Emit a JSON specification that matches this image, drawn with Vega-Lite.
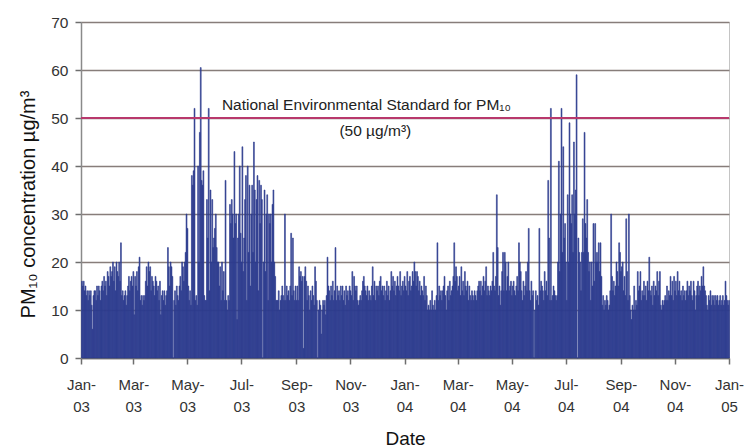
{
"$schema":"https://vega.github.io/schema/vega-lite/v6.json",
"width":648,"height":336,"autosize":"none",
"padding":{"left":81,"top":22,"right":16,"bottom":90},
"background":"white",
"config":{"view":{"stroke":"#c4c4c4","strokeWidth":1},"font":"Liberation Sans"},
"datasets":{"pm":[
{"date":"2003-01-01","pm10":16},{"date":"2003-01-02","pm10":15},{"date":"2003-01-03","pm10":16},{"date":"2003-01-04","pm10":14},{"date":"2003-01-05","pm10":15},{"date":"2003-01-06","pm10":13},{"date":"2003-01-07","pm10":14},{"date":"2003-01-08","pm10":12},{"date":"2003-01-09","pm10":14},{"date":"2003-01-10","pm10":13},{"date":"2003-01-11","pm10":14},{"date":"2003-01-12","pm10":11},{"date":"2003-01-13","pm10":6},{"date":"2003-01-14","pm10":13},{"date":"2003-01-15","pm10":14},{"date":"2003-01-16","pm10":14},{"date":"2003-01-17","pm10":12},{"date":"2003-01-18","pm10":15},{"date":"2003-01-19","pm10":13},{"date":"2003-01-20","pm10":15},{"date":"2003-01-21","pm10":14},{"date":"2003-01-22","pm10":12},{"date":"2003-01-23","pm10":15},{"date":"2003-01-24","pm10":16},{"date":"2003-01-25","pm10":14},{"date":"2003-01-26","pm10":17},{"date":"2003-01-27","pm10":15},{"date":"2003-01-28","pm10":16},{"date":"2003-01-29","pm10":13},{"date":"2003-01-30","pm10":18},{"date":"2003-01-31","pm10":17},
{"date":"2003-02-01","pm10":15},{"date":"2003-02-02","pm10":19},{"date":"2003-02-03","pm10":17},{"date":"2003-02-04","pm10":18},{"date":"2003-02-05","pm10":20},{"date":"2003-02-06","pm10":16},{"date":"2003-02-07","pm10":19},{"date":"2003-02-08","pm10":14},{"date":"2003-02-09","pm10":20},{"date":"2003-02-10","pm10":18},{"date":"2003-02-11","pm10":17},{"date":"2003-02-12","pm10":20},{"date":"2003-02-13","pm10":16},{"date":"2003-02-14","pm10":24},{"date":"2003-02-15","pm10":13},{"date":"2003-02-16","pm10":14},{"date":"2003-02-17","pm10":12},{"date":"2003-02-18","pm10":13},{"date":"2003-02-19","pm10":14},{"date":"2003-02-20","pm10":11},{"date":"2003-02-21","pm10":13},{"date":"2003-02-22","pm10":15},{"date":"2003-02-23","pm10":17},{"date":"2003-02-24","pm10":14},{"date":"2003-02-25","pm10":16},{"date":"2003-02-26","pm10":17},{"date":"2003-02-27","pm10":15},{"date":"2003-02-28","pm10":18},
{"date":"2003-03-01","pm10":9},{"date":"2003-03-02","pm10":17},{"date":"2003-03-03","pm10":15},{"date":"2003-03-04","pm10":18},{"date":"2003-03-05","pm10":14},{"date":"2003-03-06","pm10":19},{"date":"2003-03-07","pm10":21},{"date":"2003-03-08","pm10":12},{"date":"2003-03-09","pm10":13},{"date":"2003-03-10","pm10":11},{"date":"2003-03-11","pm10":13},{"date":"2003-03-12","pm10":12},{"date":"2003-03-13","pm10":13},{"date":"2003-03-14","pm10":16},{"date":"2003-03-15","pm10":19},{"date":"2003-03-16","pm10":15},{"date":"2003-03-17","pm10":20},{"date":"2003-03-18","pm10":18},{"date":"2003-03-19","pm10":19},{"date":"2003-03-20","pm10":14},{"date":"2003-03-21","pm10":17},{"date":"2003-03-22","pm10":16},{"date":"2003-03-23","pm10":15},{"date":"2003-03-24","pm10":13},{"date":"2003-03-25","pm10":17},{"date":"2003-03-26","pm10":16},{"date":"2003-03-27","pm10":14},{"date":"2003-03-28","pm10":15},{"date":"2003-03-29","pm10":12},{"date":"2003-03-30","pm10":16},{"date":"2003-03-31","pm10":9},
{"date":"2003-04-01","pm10":13},{"date":"2003-04-02","pm10":14},{"date":"2003-04-03","pm10":12},{"date":"2003-04-04","pm10":14},{"date":"2003-04-05","pm10":11},{"date":"2003-04-06","pm10":13},{"date":"2003-04-07","pm10":14},{"date":"2003-04-08","pm10":23},{"date":"2003-04-09","pm10":19},{"date":"2003-04-10","pm10":15},{"date":"2003-04-11","pm10":20},{"date":"2003-04-12","pm10":19},{"date":"2003-04-13","pm10":17},{"date":"2003-04-14","pm10":0},{"date":"2003-04-15","pm10":12},{"date":"2003-04-16","pm10":14},{"date":"2003-04-17","pm10":11},{"date":"2003-04-18","pm10":15},{"date":"2003-04-19","pm10":13},{"date":"2003-04-20","pm10":12},{"date":"2003-04-21","pm10":15},{"date":"2003-04-22","pm10":17},{"date":"2003-04-23","pm10":14},{"date":"2003-04-24","pm10":20},{"date":"2003-04-25","pm10":19},{"date":"2003-04-26","pm10":16},{"date":"2003-04-27","pm10":20},{"date":"2003-04-28","pm10":22},{"date":"2003-04-29","pm10":30},{"date":"2003-04-30","pm10":27},
{"date":"2003-05-01","pm10":15},{"date":"2003-05-02","pm10":12},{"date":"2003-05-03","pm10":14},{"date":"2003-05-04","pm10":11},{"date":"2003-05-05","pm10":38},{"date":"2003-05-06","pm10":36},{"date":"2003-05-07","pm10":39},{"date":"2003-05-08","pm10":52},{"date":"2003-05-09","pm10":12},{"date":"2003-05-10","pm10":13},{"date":"2003-05-11","pm10":11},{"date":"2003-05-12","pm10":40},{"date":"2003-05-13","pm10":20},{"date":"2003-05-14","pm10":47},{"date":"2003-05-15","pm10":60.5},{"date":"2003-05-16","pm10":37},{"date":"2003-05-17","pm10":36},{"date":"2003-05-18","pm10":39},{"date":"2003-05-19","pm10":13},{"date":"2003-05-20","pm10":12},{"date":"2003-05-21","pm10":12},{"date":"2003-05-22","pm10":33},{"date":"2003-05-23","pm10":25},{"date":"2003-05-24","pm10":52},{"date":"2003-05-25","pm10":14},{"date":"2003-05-26","pm10":35},{"date":"2003-05-27","pm10":20},{"date":"2003-05-28","pm10":33},{"date":"2003-05-29","pm10":23},{"date":"2003-05-30","pm10":25},{"date":"2003-05-31","pm10":27},
{"date":"2003-06-01","pm10":30},{"date":"2003-06-02","pm10":23},{"date":"2003-06-03","pm10":20},{"date":"2003-06-04","pm10":20},{"date":"2003-06-05","pm10":15},{"date":"2003-06-06","pm10":19},{"date":"2003-06-07","pm10":12},{"date":"2003-06-08","pm10":20},{"date":"2003-06-09","pm10":14},{"date":"2003-06-10","pm10":18},{"date":"2003-06-11","pm10":12},{"date":"2003-06-12","pm10":37},{"date":"2003-06-13","pm10":12},{"date":"2003-06-14","pm10":10},{"date":"2003-06-15","pm10":13},{"date":"2003-06-16","pm10":12},{"date":"2003-06-17","pm10":32},{"date":"2003-06-18","pm10":28},{"date":"2003-06-19","pm10":33},{"date":"2003-06-20","pm10":30},{"date":"2003-06-21","pm10":25},{"date":"2003-06-22","pm10":43},{"date":"2003-06-23","pm10":28},{"date":"2003-06-24","pm10":30},{"date":"2003-06-25","pm10":8},{"date":"2003-06-26","pm10":25},{"date":"2003-06-27","pm10":30},{"date":"2003-06-28","pm10":40},{"date":"2003-06-29","pm10":26},{"date":"2003-06-30","pm10":20},
{"date":"2003-07-01","pm10":44},{"date":"2003-07-02","pm10":18},{"date":"2003-07-03","pm10":25},{"date":"2003-07-04","pm10":33},{"date":"2003-07-05","pm10":38},{"date":"2003-07-06","pm10":12},{"date":"2003-07-07","pm10":40},{"date":"2003-07-08","pm10":22},{"date":"2003-07-09","pm10":36},{"date":"2003-07-10","pm10":15},{"date":"2003-07-11","pm10":30},{"date":"2003-07-12","pm10":36},{"date":"2003-07-13","pm10":22},{"date":"2003-07-14","pm10":45},{"date":"2003-07-15","pm10":35},{"date":"2003-07-16","pm10":20},{"date":"2003-07-17","pm10":33},{"date":"2003-07-18","pm10":38},{"date":"2003-07-19","pm10":14},{"date":"2003-07-20","pm10":37},{"date":"2003-07-21","pm10":28},{"date":"2003-07-22","pm10":36},{"date":"2003-07-23","pm10":33},{"date":"2003-07-24","pm10":0},{"date":"2003-07-25","pm10":20},{"date":"2003-07-26","pm10":35},{"date":"2003-07-27","pm10":18},{"date":"2003-07-28","pm10":30},{"date":"2003-07-29","pm10":34},{"date":"2003-07-30","pm10":12},{"date":"2003-07-31","pm10":30},
{"date":"2003-08-01","pm10":28},{"date":"2003-08-02","pm10":30},{"date":"2003-08-03","pm10":20},{"date":"2003-08-04","pm10":32},{"date":"2003-08-05","pm10":35},{"date":"2003-08-06","pm10":20},{"date":"2003-08-07","pm10":17},{"date":"2003-08-08","pm10":12},{"date":"2003-08-09","pm10":12},{"date":"2003-08-10","pm10":12},{"date":"2003-08-11","pm10":14},{"date":"2003-08-12","pm10":10},{"date":"2003-08-13","pm10":12},{"date":"2003-08-14","pm10":13},{"date":"2003-08-15","pm10":15},{"date":"2003-08-16","pm10":13},{"date":"2003-08-17","pm10":12},{"date":"2003-08-18","pm10":30},{"date":"2003-08-19","pm10":12},{"date":"2003-08-20","pm10":15},{"date":"2003-08-21","pm10":13},{"date":"2003-08-22","pm10":14},{"date":"2003-08-23","pm10":12},{"date":"2003-08-24","pm10":15},{"date":"2003-08-25","pm10":26},{"date":"2003-08-26","pm10":13},{"date":"2003-08-27","pm10":25},{"date":"2003-08-28","pm10":14},{"date":"2003-08-29","pm10":12},{"date":"2003-08-30","pm10":15},{"date":"2003-08-31","pm10":12},
{"date":"2003-09-01","pm10":15},{"date":"2003-09-02","pm10":12},{"date":"2003-09-03","pm10":19},{"date":"2003-09-04","pm10":17},{"date":"2003-09-05","pm10":18},{"date":"2003-09-06","pm10":16},{"date":"2003-09-07","pm10":17},{"date":"2003-09-08","pm10":2},{"date":"2003-09-09","pm10":17},{"date":"2003-09-10","pm10":19},{"date":"2003-09-11","pm10":16},{"date":"2003-09-12","pm10":12},{"date":"2003-09-13","pm10":15},{"date":"2003-09-14","pm10":13},{"date":"2003-09-15","pm10":10},{"date":"2003-09-16","pm10":14},{"date":"2003-09-17","pm10":12},{"date":"2003-09-18","pm10":15},{"date":"2003-09-19","pm10":13},{"date":"2003-09-20","pm10":11},{"date":"2003-09-21","pm10":19},{"date":"2003-09-22","pm10":16},{"date":"2003-09-23","pm10":12},{"date":"2003-09-24","pm10":0},{"date":"2003-09-25","pm10":10},{"date":"2003-09-26","pm10":12},{"date":"2003-09-27","pm10":11},{"date":"2003-09-28","pm10":5},{"date":"2003-09-29","pm10":10},{"date":"2003-09-30","pm10":12},
{"date":"2003-10-01","pm10":11},{"date":"2003-10-02","pm10":12},{"date":"2003-10-03","pm10":9},{"date":"2003-10-04","pm10":13},{"date":"2003-10-05","pm10":21},{"date":"2003-10-06","pm10":15},{"date":"2003-10-07","pm10":14},{"date":"2003-10-08","pm10":12},{"date":"2003-10-09","pm10":15},{"date":"2003-10-10","pm10":13},{"date":"2003-10-11","pm10":16},{"date":"2003-10-12","pm10":12},{"date":"2003-10-13","pm10":14},{"date":"2003-10-14","pm10":23},{"date":"2003-10-15","pm10":12},{"date":"2003-10-16","pm10":15},{"date":"2003-10-17","pm10":13},{"date":"2003-10-18","pm10":14},{"date":"2003-10-19","pm10":12},{"date":"2003-10-20","pm10":15},{"date":"2003-10-21","pm10":13},{"date":"2003-10-22","pm10":15},{"date":"2003-10-23","pm10":12},{"date":"2003-10-24","pm10":14},{"date":"2003-10-25","pm10":11},{"date":"2003-10-26","pm10":15},{"date":"2003-10-27","pm10":13},{"date":"2003-10-28","pm10":14},{"date":"2003-10-29","pm10":12},{"date":"2003-10-30","pm10":15},{"date":"2003-10-31","pm10":14},
{"date":"2003-11-01","pm10":13},{"date":"2003-11-02","pm10":18},{"date":"2003-11-03","pm10":12},{"date":"2003-11-04","pm10":17},{"date":"2003-11-05","pm10":15},{"date":"2003-11-06","pm10":14},{"date":"2003-11-07","pm10":15},{"date":"2003-11-08","pm10":12},{"date":"2003-11-09","pm10":11},{"date":"2003-11-10","pm10":12},{"date":"2003-11-11","pm10":13},{"date":"2003-11-12","pm10":12},{"date":"2003-11-13","pm10":14},{"date":"2003-11-14","pm10":16},{"date":"2003-11-15","pm10":17},{"date":"2003-11-16","pm10":15},{"date":"2003-11-17","pm10":14},{"date":"2003-11-18","pm10":13},{"date":"2003-11-19","pm10":15},{"date":"2003-11-20","pm10":12},{"date":"2003-11-21","pm10":14},{"date":"2003-11-22","pm10":13},{"date":"2003-11-23","pm10":12},{"date":"2003-11-24","pm10":15},{"date":"2003-11-25","pm10":19},{"date":"2003-11-26","pm10":13},{"date":"2003-11-27","pm10":16},{"date":"2003-11-28","pm10":12},{"date":"2003-11-29","pm10":15},{"date":"2003-11-30","pm10":14},
{"date":"2003-12-01","pm10":15},{"date":"2003-12-02","pm10":13},{"date":"2003-12-03","pm10":16},{"date":"2003-12-04","pm10":17},{"date":"2003-12-05","pm10":14},{"date":"2003-12-06","pm10":15},{"date":"2003-12-07","pm10":13},{"date":"2003-12-08","pm10":15},{"date":"2003-12-09","pm10":12},{"date":"2003-12-10","pm10":14},{"date":"2003-12-11","pm10":16},{"date":"2003-12-12","pm10":13},{"date":"2003-12-13","pm10":15},{"date":"2003-12-14","pm10":12},{"date":"2003-12-15","pm10":14},{"date":"2003-12-16","pm10":18},{"date":"2003-12-17","pm10":15},{"date":"2003-12-18","pm10":17},{"date":"2003-12-19","pm10":14},{"date":"2003-12-20","pm10":16},{"date":"2003-12-21","pm10":13},{"date":"2003-12-22","pm10":15},{"date":"2003-12-23","pm10":17},{"date":"2003-12-24","pm10":15},{"date":"2003-12-25","pm10":14},{"date":"2003-12-26","pm10":18},{"date":"2003-12-27","pm10":13},{"date":"2003-12-28","pm10":15},{"date":"2003-12-29","pm10":16},{"date":"2003-12-30","pm10":14},{"date":"2003-12-31","pm10":17},
{"date":"2004-01-01","pm10":15},{"date":"2004-01-02","pm10":14},{"date":"2004-01-03","pm10":18},{"date":"2004-01-04","pm10":13},{"date":"2004-01-05","pm10":16},{"date":"2004-01-06","pm10":17},{"date":"2004-01-07","pm10":14},{"date":"2004-01-08","pm10":15},{"date":"2004-01-09","pm10":18},{"date":"2004-01-10","pm10":16},{"date":"2004-01-11","pm10":20},{"date":"2004-01-12","pm10":18},{"date":"2004-01-13","pm10":15},{"date":"2004-01-14","pm10":18},{"date":"2004-01-15","pm10":17},{"date":"2004-01-16","pm10":14},{"date":"2004-01-17","pm10":16},{"date":"2004-01-18","pm10":13},{"date":"2004-01-19","pm10":15},{"date":"2004-01-20","pm10":14},{"date":"2004-01-21","pm10":13},{"date":"2004-01-22","pm10":17},{"date":"2004-01-23","pm10":12},{"date":"2004-01-24","pm10":15},{"date":"2004-01-25","pm10":13},{"date":"2004-01-26","pm10":10},{"date":"2004-01-27","pm10":11},{"date":"2004-01-28","pm10":10},{"date":"2004-01-29","pm10":12},{"date":"2004-01-30","pm10":10},{"date":"2004-01-31","pm10":14},
{"date":"2004-02-01","pm10":11},{"date":"2004-02-02","pm10":10},{"date":"2004-02-03","pm10":12},{"date":"2004-02-04","pm10":10},{"date":"2004-02-05","pm10":13},{"date":"2004-02-06","pm10":24},{"date":"2004-02-07","pm10":12},{"date":"2004-02-08","pm10":15},{"date":"2004-02-09","pm10":13},{"date":"2004-02-10","pm10":14},{"date":"2004-02-11","pm10":12},{"date":"2004-02-12","pm10":14},{"date":"2004-02-13","pm10":15},{"date":"2004-02-14","pm10":17},{"date":"2004-02-15","pm10":13},{"date":"2004-02-16","pm10":10},{"date":"2004-02-17","pm10":14},{"date":"2004-02-18","pm10":15},{"date":"2004-02-19","pm10":12},{"date":"2004-02-20","pm10":16},{"date":"2004-02-21","pm10":13},{"date":"2004-02-22","pm10":14},{"date":"2004-02-23","pm10":15},{"date":"2004-02-24","pm10":17},{"date":"2004-02-25","pm10":24},{"date":"2004-02-26","pm10":16},{"date":"2004-02-27","pm10":19},{"date":"2004-02-28","pm10":17},{"date":"2004-02-29","pm10":14},
{"date":"2004-03-01","pm10":15},{"date":"2004-03-02","pm10":17},{"date":"2004-03-03","pm10":13},{"date":"2004-03-04","pm10":19},{"date":"2004-03-05","pm10":14},{"date":"2004-03-06","pm10":16},{"date":"2004-03-07","pm10":13},{"date":"2004-03-08","pm10":18},{"date":"2004-03-09","pm10":15},{"date":"2004-03-10","pm10":14},{"date":"2004-03-11","pm10":16},{"date":"2004-03-12","pm10":12},{"date":"2004-03-13","pm10":15},{"date":"2004-03-14","pm10":13},{"date":"2004-03-15","pm10":12},{"date":"2004-03-16","pm10":14},{"date":"2004-03-17","pm10":13},{"date":"2004-03-18","pm10":12},{"date":"2004-03-19","pm10":14},{"date":"2004-03-20","pm10":13},{"date":"2004-03-21","pm10":12},{"date":"2004-03-22","pm10":14},{"date":"2004-03-23","pm10":15},{"date":"2004-03-24","pm10":16},{"date":"2004-03-25","pm10":14},{"date":"2004-03-26","pm10":16},{"date":"2004-03-27","pm10":13},{"date":"2004-03-28","pm10":15},{"date":"2004-03-29","pm10":17},{"date":"2004-03-30","pm10":14},{"date":"2004-03-31","pm10":16},
{"date":"2004-04-01","pm10":19},{"date":"2004-04-02","pm10":13},{"date":"2004-04-03","pm10":15},{"date":"2004-04-04","pm10":14},{"date":"2004-04-05","pm10":13},{"date":"2004-04-06","pm10":15},{"date":"2004-04-07","pm10":14},{"date":"2004-04-08","pm10":16},{"date":"2004-04-09","pm10":22},{"date":"2004-04-10","pm10":15},{"date":"2004-04-11","pm10":14},{"date":"2004-04-12","pm10":17},{"date":"2004-04-13","pm10":34},{"date":"2004-04-14","pm10":23},{"date":"2004-04-15","pm10":13},{"date":"2004-04-16","pm10":15},{"date":"2004-04-17","pm10":11},{"date":"2004-04-18","pm10":14},{"date":"2004-04-19","pm10":18},{"date":"2004-04-20","pm10":22},{"date":"2004-04-21","pm10":14},{"date":"2004-04-22","pm10":22},{"date":"2004-04-23","pm10":20},{"date":"2004-04-24","pm10":14},{"date":"2004-04-25","pm10":17},{"date":"2004-04-26","pm10":20},{"date":"2004-04-27","pm10":14},{"date":"2004-04-28","pm10":15},{"date":"2004-04-29","pm10":16},{"date":"2004-04-30","pm10":13},
{"date":"2004-05-01","pm10":15},{"date":"2004-05-02","pm10":16},{"date":"2004-05-03","pm10":14},{"date":"2004-05-04","pm10":13},{"date":"2004-05-05","pm10":15},{"date":"2004-05-06","pm10":17},{"date":"2004-05-07","pm10":14},{"date":"2004-05-08","pm10":24},{"date":"2004-05-09","pm10":20},{"date":"2004-05-10","pm10":18},{"date":"2004-05-11","pm10":14},{"date":"2004-05-12","pm10":12},{"date":"2004-05-13","pm10":16},{"date":"2004-05-14","pm10":13},{"date":"2004-05-15","pm10":15},{"date":"2004-05-16","pm10":18},{"date":"2004-05-17","pm10":14},{"date":"2004-05-18","pm10":20},{"date":"2004-05-19","pm10":27},{"date":"2004-05-20","pm10":14},{"date":"2004-05-21","pm10":12},{"date":"2004-05-22","pm10":16},{"date":"2004-05-23","pm10":13},{"date":"2004-05-24","pm10":14},{"date":"2004-05-25","pm10":0},{"date":"2004-05-26","pm10":10},{"date":"2004-05-27","pm10":14},{"date":"2004-05-28","pm10":12},{"date":"2004-05-29","pm10":13},{"date":"2004-05-30","pm10":11},{"date":"2004-05-31","pm10":27},
{"date":"2004-06-01","pm10":14},{"date":"2004-06-02","pm10":16},{"date":"2004-06-03","pm10":15},{"date":"2004-06-04","pm10":14},{"date":"2004-06-05","pm10":12},{"date":"2004-06-06","pm10":18},{"date":"2004-06-07","pm10":14},{"date":"2004-06-08","pm10":16},{"date":"2004-06-09","pm10":13},{"date":"2004-06-10","pm10":37},{"date":"2004-06-11","pm10":25},{"date":"2004-06-12","pm10":12},{"date":"2004-06-13","pm10":52},{"date":"2004-06-14","pm10":12},{"date":"2004-06-15","pm10":13},{"date":"2004-06-16","pm10":15},{"date":"2004-06-17","pm10":14},{"date":"2004-06-18","pm10":13},{"date":"2004-06-19","pm10":12},{"date":"2004-06-20","pm10":13},{"date":"2004-06-21","pm10":20},{"date":"2004-06-22","pm10":41},{"date":"2004-06-23","pm10":18},{"date":"2004-06-24","pm10":30},{"date":"2004-06-25","pm10":52},{"date":"2004-06-26","pm10":22},{"date":"2004-06-27","pm10":44},{"date":"2004-06-28","pm10":25},{"date":"2004-06-29","pm10":28},{"date":"2004-06-30","pm10":20},
{"date":"2004-07-01","pm10":12},{"date":"2004-07-02","pm10":34},{"date":"2004-07-03","pm10":20},{"date":"2004-07-04","pm10":49},{"date":"2004-07-05","pm10":30},{"date":"2004-07-06","pm10":28},{"date":"2004-07-07","pm10":34},{"date":"2004-07-08","pm10":22},{"date":"2004-07-09","pm10":45},{"date":"2004-07-10","pm10":30},{"date":"2004-07-11","pm10":35},{"date":"2004-07-12","pm10":59},{"date":"2004-07-13","pm10":0},{"date":"2004-07-14","pm10":25},{"date":"2004-07-15","pm10":22},{"date":"2004-07-16","pm10":20},{"date":"2004-07-17","pm10":14},{"date":"2004-07-18","pm10":22},{"date":"2004-07-19","pm10":29},{"date":"2004-07-20","pm10":22},{"date":"2004-07-21","pm10":47},{"date":"2004-07-22","pm10":28},{"date":"2004-07-23","pm10":25},{"date":"2004-07-24","pm10":33},{"date":"2004-07-25","pm10":22},{"date":"2004-07-26","pm10":18},{"date":"2004-07-27","pm10":20},{"date":"2004-07-28","pm10":12},{"date":"2004-07-29","pm10":20},{"date":"2004-07-30","pm10":15},{"date":"2004-07-31","pm10":28},
{"date":"2004-08-01","pm10":16},{"date":"2004-08-02","pm10":28},{"date":"2004-08-03","pm10":20},{"date":"2004-08-04","pm10":22},{"date":"2004-08-05","pm10":20},{"date":"2004-08-06","pm10":24},{"date":"2004-08-07","pm10":18},{"date":"2004-08-08","pm10":24},{"date":"2004-08-09","pm10":17},{"date":"2004-08-10","pm10":11},{"date":"2004-08-11","pm10":13},{"date":"2004-08-12","pm10":10},{"date":"2004-08-13","pm10":12},{"date":"2004-08-14","pm10":11},{"date":"2004-08-15","pm10":13},{"date":"2004-08-16","pm10":12},{"date":"2004-08-17","pm10":10},{"date":"2004-08-18","pm10":11},{"date":"2004-08-19","pm10":14},{"date":"2004-08-20","pm10":30},{"date":"2004-08-21","pm10":17},{"date":"2004-08-22","pm10":14},{"date":"2004-08-23","pm10":16},{"date":"2004-08-24","pm10":13},{"date":"2004-08-25","pm10":15},{"date":"2004-08-26","pm10":20},{"date":"2004-08-27","pm10":18},{"date":"2004-08-28","pm10":15},{"date":"2004-08-29","pm10":24},{"date":"2004-08-30","pm10":22},{"date":"2004-08-31","pm10":18},
{"date":"2004-09-01","pm10":19},{"date":"2004-09-02","pm10":20},{"date":"2004-09-03","pm10":14},{"date":"2004-09-04","pm10":17},{"date":"2004-09-05","pm10":13},{"date":"2004-09-06","pm10":29},{"date":"2004-09-07","pm10":18},{"date":"2004-09-08","pm10":12},{"date":"2004-09-09","pm10":30},{"date":"2004-09-10","pm10":13},{"date":"2004-09-11","pm10":10},{"date":"2004-09-12","pm10":8},{"date":"2004-09-13","pm10":11},{"date":"2004-09-14","pm10":10},{"date":"2004-09-15","pm10":15},{"date":"2004-09-16","pm10":10},{"date":"2004-09-17","pm10":12},{"date":"2004-09-18","pm10":11},{"date":"2004-09-19","pm10":18},{"date":"2004-09-20","pm10":14},{"date":"2004-09-21","pm10":15},{"date":"2004-09-22","pm10":18},{"date":"2004-09-23","pm10":12},{"date":"2004-09-24","pm10":14},{"date":"2004-09-25","pm10":13},{"date":"2004-09-26","pm10":16},{"date":"2004-09-27","pm10":13},{"date":"2004-09-28","pm10":15},{"date":"2004-09-29","pm10":12},{"date":"2004-09-30","pm10":16},
{"date":"2004-10-01","pm10":14},{"date":"2004-10-02","pm10":21},{"date":"2004-10-03","pm10":14},{"date":"2004-10-04","pm10":13},{"date":"2004-10-05","pm10":15},{"date":"2004-10-06","pm10":11},{"date":"2004-10-07","pm10":16},{"date":"2004-10-08","pm10":13},{"date":"2004-10-09","pm10":15},{"date":"2004-10-10","pm10":14},{"date":"2004-10-11","pm10":18},{"date":"2004-10-12","pm10":13},{"date":"2004-10-13","pm10":16},{"date":"2004-10-14","pm10":18},{"date":"2004-10-15","pm10":11},{"date":"2004-10-16","pm10":10},{"date":"2004-10-17","pm10":12},{"date":"2004-10-18","pm10":11},{"date":"2004-10-19","pm10":12},{"date":"2004-10-20","pm10":13},{"date":"2004-10-21","pm10":12},{"date":"2004-10-22","pm10":15},{"date":"2004-10-23","pm10":12},{"date":"2004-10-24","pm10":14},{"date":"2004-10-25","pm10":13},{"date":"2004-10-26","pm10":17},{"date":"2004-10-27","pm10":13},{"date":"2004-10-28","pm10":16},{"date":"2004-10-29","pm10":12},{"date":"2004-10-30","pm10":17},{"date":"2004-10-31","pm10":14},
{"date":"2004-11-01","pm10":16},{"date":"2004-11-02","pm10":13},{"date":"2004-11-03","pm10":18},{"date":"2004-11-04","pm10":14},{"date":"2004-11-05","pm10":16},{"date":"2004-11-06","pm10":13},{"date":"2004-11-07","pm10":14},{"date":"2004-11-08","pm10":12},{"date":"2004-11-09","pm10":15},{"date":"2004-11-10","pm10":13},{"date":"2004-11-11","pm10":14},{"date":"2004-11-12","pm10":12},{"date":"2004-11-13","pm10":14},{"date":"2004-11-14","pm10":16},{"date":"2004-11-15","pm10":13},{"date":"2004-11-16","pm10":15},{"date":"2004-11-17","pm10":14},{"date":"2004-11-18","pm10":16},{"date":"2004-11-19","pm10":13},{"date":"2004-11-20","pm10":12},{"date":"2004-11-21","pm10":16},{"date":"2004-11-22","pm10":14},{"date":"2004-11-23","pm10":10},{"date":"2004-11-24","pm10":13},{"date":"2004-11-25","pm10":15},{"date":"2004-11-26","pm10":16},{"date":"2004-11-27","pm10":13},{"date":"2004-11-28","pm10":15},{"date":"2004-11-29","pm10":14},{"date":"2004-11-30","pm10":17},
{"date":"2004-12-01","pm10":15},{"date":"2004-12-02","pm10":19},{"date":"2004-12-03","pm10":15},{"date":"2004-12-04","pm10":14},{"date":"2004-12-05","pm10":13},{"date":"2004-12-06","pm10":11},{"date":"2004-12-07","pm10":10},{"date":"2004-12-08","pm10":13},{"date":"2004-12-09","pm10":12},{"date":"2004-12-10","pm10":14},{"date":"2004-12-11","pm10":11},{"date":"2004-12-12","pm10":13},{"date":"2004-12-13","pm10":12},{"date":"2004-12-14","pm10":13},{"date":"2004-12-15","pm10":11},{"date":"2004-12-16","pm10":13},{"date":"2004-12-17","pm10":12},{"date":"2004-12-18","pm10":13},{"date":"2004-12-19","pm10":11},{"date":"2004-12-20","pm10":12},{"date":"2004-12-21","pm10":13},{"date":"2004-12-22","pm10":11},{"date":"2004-12-23","pm10":12},{"date":"2004-12-24","pm10":13},{"date":"2004-12-25","pm10":11},{"date":"2004-12-26","pm10":12},{"date":"2004-12-27","pm10":16},{"date":"2004-12-28","pm10":13},{"date":"2004-12-29","pm10":12},{"date":"2004-12-30","pm10":11},{"date":"2004-12-31","pm10":12}
],
"notes":[
{"date":"2003-11-19","pm10":52.8,"label":"National Environmental Standard for PM₁₀"},
{"date":"2003-11-29","pm10":47.2,"label":"(50 µg/m³)"}
],
"std":[{"pm10":50}]},
"layer":[
{"data":{"name":"pm"},
 "mark":{"type":"bar","color":"#2e3c8f","binSpacing":0,"stroke":"#2e3c8f","strokeWidth":0.6},
 "encoding":{
  "x":{"field":"date","timeUnit":"utcyearmonthdate","type":"temporal",
   "scale":{"type":"utc","domain":[{"year":2003,"month":1,"date":1,"utc":true},{"year":2005,"month":1,"date":1,"utc":true}]},
   "axis":{"title":"Date","titleFontSize":19,"titleFontWeight":"normal","titleColor":"#111","titleBaseline":"alphabetic","titleY":86,
    "values":[{"year":2003,"month":1,"date":1,"utc":true},{"year":2003,"month":3,"date":1,"utc":true},{"year":2003,"month":5,"date":1,"utc":true},{"year":2003,"month":7,"date":1,"utc":true},{"year":2003,"month":9,"date":1,"utc":true},{"year":2003,"month":11,"date":1,"utc":true},{"year":2004,"month":1,"date":1,"utc":true},{"year":2004,"month":3,"date":1,"utc":true},{"year":2004,"month":5,"date":1,"utc":true},{"year":2004,"month":7,"date":1,"utc":true},{"year":2004,"month":9,"date":1,"utc":true},{"year":2004,"month":11,"date":1,"utc":true},{"year":2005,"month":1,"date":1,"utc":true}],
    "labelExpr":"[utcFormat(datum.value,'%b')+'-', utcFormat(datum.value,'%y')]",
    "labelFontSize":15,"labelColor":"#333","labelLineHeight":22,"labelPadding":13,"labelFlush":false,"labelOverlap":false,"labelBound":false,
    "tickSize":6,"tickColor":"#6e6e6e","domainColor":"#6e6e6e","domainWidth":1.5,"tickWidth":1.5,"grid":false}},
  "y":{"field":"pm10","type":"quantitative","scale":{"domain":[0,70],"nice":false},
   "axis":{"title":"PM₁₀ concentration µg/m³","titleFontSize":20,"titleFontWeight":"normal","titleColor":"#111","titleX":-47,"titleY":182,"titleAngle":-90,"titleAlign":"center","titleBaseline":"alphabetic",
    "values":[0,10,20,30,40,50,60,70],"labelFontSize":15.5,"labelColor":"#333","labelPadding":7,"tickSize":6,"tickColor":"#6e6e6e","domainColor":"#8a8a8a","domainWidth":1.5,"tickWidth":1.5,
    "grid":true,"gridColor":"#877d7a","gridWidth":1.7}}
 }},
{"data":{"name":"std"},
 "mark":{"type":"rule","color":"#b8386c","strokeWidth":2.2},
 "encoding":{"y":{"field":"pm10","type":"quantitative","title":"PM₁₀ concentration µg/m³"}}},
{"data":{"name":"notes"},
 "mark":{"type":"text","fontSize":15.5,"color":"#222","align":"center","baseline":"middle"},
 "encoding":{
  "x":{"field":"date","type":"temporal","title":"Date"},
  "y":{"field":"pm10","type":"quantitative","title":"PM₁₀ concentration µg/m³"},
  "text":{"field":"label"}}}
]
}
